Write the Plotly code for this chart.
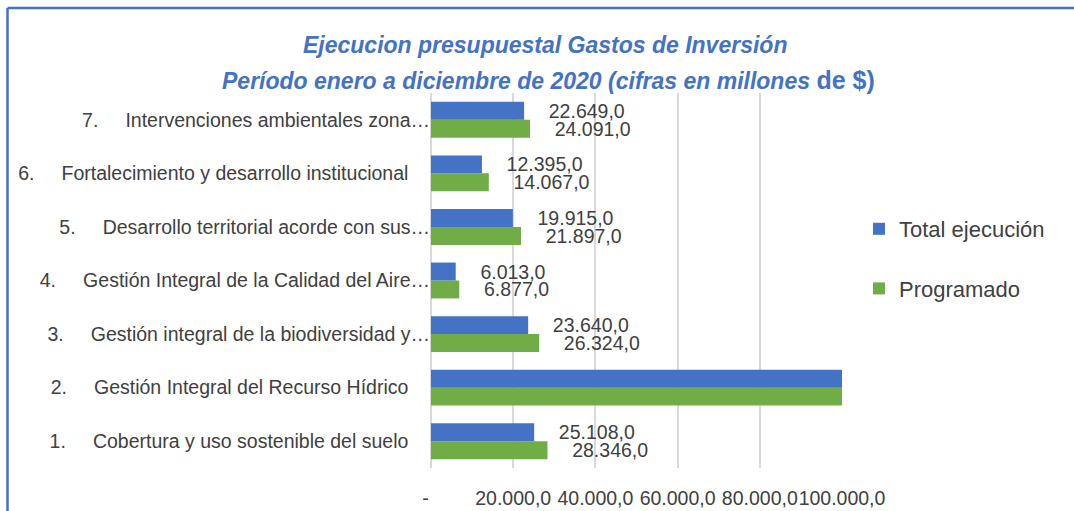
import plotly.graph_objects as go

NB = "\u00a0"

# Budget lines (bottom to top on the chart)
numbers = ["1.", "2.", "3.", "4.", "5.", "6.", "7."]
names = [
    "Cobertura y uso sostenible del suelo" + NB * 4,
    "Gestión Integral del Recurso Hídrico" + NB * 4,
    "Gestión integral de la biodiversidad y…",
    "Gestión Integral de la Calidad del Aire…",
    "Desarrollo territorial acorde con sus…",
    "Fortalecimiento y desarrollo institucional" + NB * 4,
    "Intervenciones ambientales zona…",
]
# Millions of pesos
total_ejecucion = [25108.0, 131000.0, 23640.0, 6013.0, 19915.0, 12395.0, 22649.0]
programado = [28346.0, 138000.0, 26324.0, 6877.0, 21897.0, 14067.0, 24091.0]

x_ticks = [0, 20000, 40000, 60000, 80000, 100000]
x_ticktext = ["-" + NB * 2, "20.000,0", "40.000,0", "60.000,0", "80.000,0", "100.000,0"]
x_max = 100000

FONT = "Liberation Sans, Arial, sans-serif"
TEXT = "#404040"
BLUE = "#4472C4"
GREEN = "#70AD47"


def es_fmt(v):
    s = f"{v:,.1f}"
    return s.replace(",", "X").replace(".", ",").replace("X", ".")


def labels(vals):
    # values past the axis end are not labelled
    return [NB * 4 + es_fmt(v) if v <= x_max else "" for v in vals]


categories = [n + NB * 5 + t for n, t in zip(numbers, names)]
ypos = list(range(len(categories)))

fig = go.Figure()
fig.add_trace(go.Bar(
    name="Programado", y=ypos, x=programado, orientation="h",
    marker=dict(color=GREEN, line=dict(width=0)),
    text=labels(programado), textposition="outside", constraintext="none",
    textfont=dict(family=FONT, size=19.5, color=TEXT),
    legendgroup="p", legendrank=2, cliponaxis=True,
))
fig.add_trace(go.Bar(
    name="Total ejecución", y=ypos, x=total_ejecucion, orientation="h",
    marker=dict(color=BLUE, line=dict(width=0)),
    text=labels(total_ejecucion), textposition="outside", constraintext="none",
    textfont=dict(family=FONT, size=19.5, color=TEXT),
    legendgroup="t", legendrank=1, cliponaxis=True,
))

L, R, T, B = 431, 842, 93, 468
W, H = 1074, 511


def px_x(p):
    return (p - L) / (R - L)


def px_y(p):
    return (B - p) / (B - T)


fig.update_layout(
    width=W, height=H,
    margin=dict(l=L, r=W - R, t=T, b=H - B, pad=0, autoexpand=False),
    paper_bgcolor="white", plot_bgcolor="white",
    barmode="group", bargap=0.33, bargroupgap=0,
    font=dict(family=FONT, color=TEXT, size=19.5),
    xaxis=dict(
        range=[0, x_max], tickvals=x_ticks, ticktext=x_ticktext, tickangle=0,
        showgrid=True, gridcolor="#D9D9D9", gridwidth=1.5,
        zeroline=True, zerolinecolor="#D9D9D9", zerolinewidth=1.5,
        showline=False, ticks="", ticklabelstandoff=16, automargin=False,
        tickfont=dict(family=FONT, size=19.5, color=TEXT),
    ),
    yaxis=dict(
        tickvals=ypos, ticktext=categories, range=[-0.5, len(categories) - 0.5],
        showgrid=False, zeroline=False, showline=False, ticks="",
        ticklabelstandoff=0, automargin=False,
        tickfont=dict(family=FONT, size=19.5, color=TEXT),
    ),
    showlegend=True,
    legend=dict(
        x=px_x(859), xanchor="left", y=px_y(208), yanchor="top",
        traceorder="grouped", tracegroupgap=28,
        font=dict(family=FONT, size=22, color=TEXT),
        bgcolor="rgba(0,0,0,0)",
    ),
    annotations=[
        dict(text="<b><i>Ejecucion presupuestal Gastos de Inversión</i></b>",
             xref="paper", yref="paper", x=px_x(545), y=px_y(45),
             xanchor="center", yanchor="middle", showarrow=False,
             font=dict(family=FONT, size=23, color=BLUE)),
        dict(text=("<b><i>Período enero a diciembre de 2020 (cifras en millones </i></b>"
                   "<b><span style='font-size:25px'>de $)</span></b>"),
             xref="paper", yref="paper", x=px_x(548), y=px_y(80),
             xanchor="center", yanchor="middle", showarrow=False,
             font=dict(family=FONT, size=23, color=BLUE)),
    ],
    shapes=[
        dict(type="line", xref="paper", yref="paper",
             x0=px_x(7.5), x1=px_x(1100), y0=px_y(8), y1=px_y(8),
             line=dict(color=BLUE, width=2.5)),
        dict(type="line", xref="paper", yref="paper",
             x0=px_x(7.5), x1=px_x(7.5), y0=px_y(8), y1=px_y(540),
             line=dict(color=BLUE, width=2.5)),
    ],
)

fig.write_html("out.html")
